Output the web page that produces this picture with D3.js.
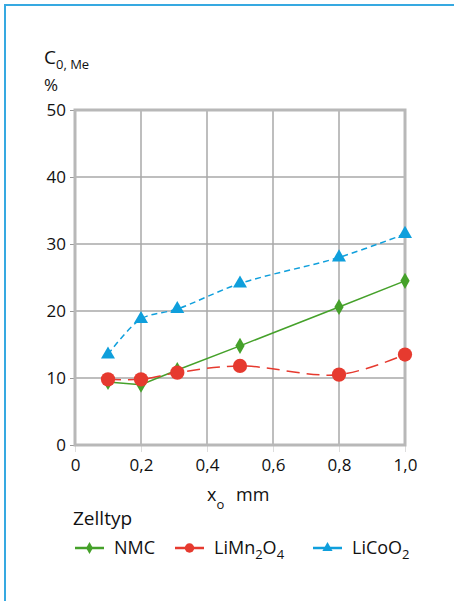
<!DOCTYPE html>
<html>
<head>
<meta charset="utf-8">
<script src="https://cdn.jsdelivr.net/npm/d3@7"></script>
<style>
  body { margin: 0; background: #fff; }
  svg { display: block; font-family: "Open Sans", "Noto Sans", sans-serif; }
</style>
</head>
<body>
<div class="container"></div>
<script>
// values
var xVals = [0.1, 0.2, 0.31, 0.5, 0.8, 1.0];
var nmc = [9.4, 9.0, 11.2, 14.8, 20.6, 24.5];
var limn = [9.8, 9.8, 10.8, 11.8, 10.5, 13.5];
var licoo = [13.5, 18.8, 20.3, 24.1, 28.0, 31.5];
var xTicks = [0, 0.2, 0.4, 0.6, 0.8, 1.0];
var yTicks = [0, 10, 20, 30, 40, 50];

var width = 454;
var height = 601;

var green = "#45a12a", red = "#e63a2f", blue = "#0f9fdc";
var gridCol = "#a9a9a9", frameCol = "#b8b8b8", txt = "#111";

var svg = d3.select(".container").append("svg")
    .attr("width", width)
    .attr("height", height);

// blue border top + left
svg.append("path")
    .attr("d", "M5,601 V5 H454")
    .attr("fill", "none")
    .attr("stroke", "#36a9e1")
    .attr("stroke-width", 2);

var x = d3.scaleLinear().domain([0, 1]).range([75, 405]);
var y = d3.scaleLinear().domain([0, 50]).range([445, 110]);

var fmtX = function(d) { return d === 0 ? "0" : d3.format(".1f")(d).replace(".", ","); };

// grid
var grid = svg.append("g");
grid.selectAll(".vg").data(xTicks.slice(1, -1)).enter().append("line")
    .attr("x1", function(d) { return x(d); })
    .attr("x2", function(d) { return x(d); })
    .attr("y1", y(0)).attr("y2", y(50))
    .attr("stroke", gridCol).attr("stroke-width", 1.5);
grid.selectAll(".hg").data(yTicks.slice(1, -1)).enter().append("line")
    .attr("y1", function(d) { return y(d); })
    .attr("y2", function(d) { return y(d); })
    .attr("x1", x(0)).attr("x2", x(1))
    .attr("stroke", gridCol).attr("stroke-width", 1.5);

// y axis ticks + labels
var yAxis = svg.append("g")
    .attr("transform", "translate(" + x(0) + ",0)")
    .call(d3.axisLeft(y).tickValues(yTicks).tickSize(5).tickPadding(4));
yAxis.select(".domain").remove();
yAxis.selectAll("line").attr("stroke", "#999").attr("stroke-width", 1);
yAxis.selectAll("text").attr("fill", txt).style("font-size", "17px")
    .style("font-family", "'Open Sans', sans-serif");

var xAxis = svg.append("g")
    .attr("transform", "translate(0," + y(0) + ")")
    .call(d3.axisBottom(x).tickValues(xTicks).tickFormat(fmtX).tickSize(7).tickPadding(7));
xAxis.select(".domain").remove();
xAxis.selectAll("line").attr("stroke", "#ddd").attr("stroke-width", 1);
xAxis.selectAll("text").attr("fill", txt).style("font-size", "17px")
    .style("font-family", "'Open Sans', sans-serif");

// frame
svg.append("rect")
    .attr("x", x(0)).attr("y", y(50))
    .attr("width", x(1) - x(0)).attr("height", y(0) - y(50))
    .attr("fill", "none")
    .attr("stroke", frameCol).attr("stroke-width", 3);

// series
var series = [
  { name: "LiCoO2", vals: licoo, color: blue, dash: "6,4", curve: d3.curveCatmullRom, shape: d3.symbolTriangle, size: 85 },
  { name: "NMC", vals: nmc, color: green, dash: null, curve: d3.curveLinear, shape: d3.symbolDiamond, size: 75 },
  { name: "LiMn2O4", vals: limn, color: red, dash: "13,7", curve: d3.curveCatmullRom, shape: d3.symbolCircle, size: 160 }
];

series.forEach(function(s) {
  var pts = xVals.map(function(v, i) { return [v, s.vals[i]]; });
  var line = d3.line()
      .x(function(d) { return x(d[0]); })
      .y(function(d) { return y(d[1]); })
      .curve(s.curve);
  svg.append("path")
      .attr("d", line(pts))
      .attr("fill", "none")
      .attr("stroke", s.color)
      .attr("stroke-width", 1.5)
      .attr("stroke-dasharray", s.dash);
  svg.selectAll(".m-" + s.name).data(pts).enter().append("path")
      .attr("transform", function(d) { return "translate(" + x(d[0]) + "," + y(d[1]) + ")"; })
      .attr("d", d3.symbol().type(s.shape).size(s.size))
      .attr("fill", s.color);
});

// y title
var yt = svg.append("text").attr("x", 44).attr("y", 64).attr("fill", txt).style("font-size", "19px");
yt.append("tspan").text("C");
yt.append("tspan").attr("dy", 5).style("font-size", "13px").text("0, Me");
svg.append("text").attr("x", 44).attr("y", 91).attr("fill", txt).style("font-size", "17px").text("%");

// x title
var xt = svg.append("text").attr("x", 207).attr("y", 501).attr("fill", txt).style("font-size", "18px");
xt.append("tspan").text("x");
xt.append("tspan").attr("dy", 8).style("font-size", "13px").text("o");
svg.append("text").attr("x", 236).attr("y", 501).attr("fill", txt).style("font-size", "18px").text("mm");

// legend
svg.append("text").attr("x", 73).attr("y", 525).attr("fill", txt).style("font-size", "19px").text("Zelltyp");

var legend = [
  { color: green, shape: d3.symbolDiamond, size: 40, x: 75, label: [["NMC", 0]] },
  { color: red, shape: d3.symbolCircle, size: 70, x: 175, label: [["LiMn", 0], ["2", 1], ["O", 0], ["4", 1]] },
  { color: blue, shape: d3.symbolTriangle, size: 45, x: 313, label: [["LiCoO", 0], ["2", 1]] }
];
var ly = 548;
legend.forEach(function(l) {
  svg.append("line").attr("x1", l.x).attr("x2", l.x + 29).attr("y1", ly).attr("y2", ly)
      .attr("stroke", l.color).attr("stroke-width", 2.5);
  svg.append("path").attr("transform", "translate(" + (l.x + 14.5) + "," + ly + ")")
      .attr("d", d3.symbol().type(l.shape).size(l.size)).attr("fill", l.color);
  var t = svg.append("text").attr("x", l.x + 39).attr("y", ly + 6).attr("fill", txt).style("font-size", "18px");
  var sub = false;
  l.label.forEach(function(p) {
    var ts = t.append("tspan").text(p[0]);
    if (p[1] && !sub) { ts.attr("dy", 5).style("font-size", "13px"); sub = true; }
    else if (!p[1] && sub) { ts.attr("dy", -5); sub = false; }
  });
});
</script>
</body>
</html>
